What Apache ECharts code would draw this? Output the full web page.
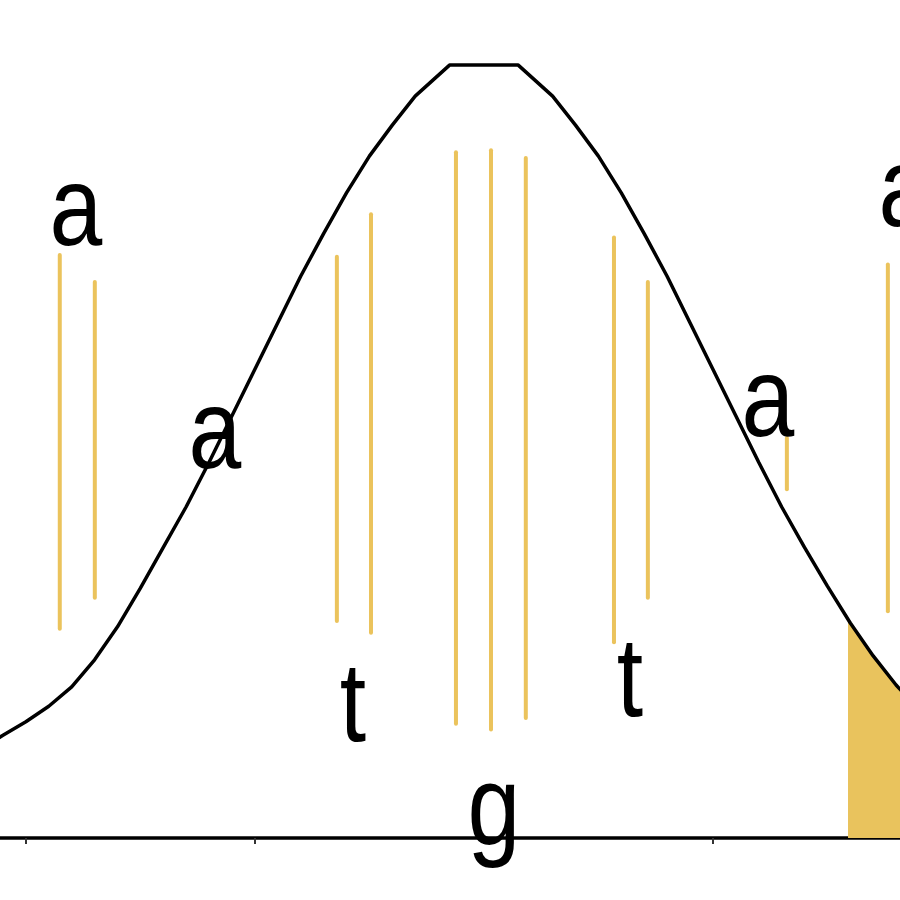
<!DOCTYPE html>
<html>
<head>
<meta charset="utf-8">
<script src="https://cdn.jsdelivr.net/npm/echarts@6/dist/echarts.min.js"></script>
<style>html,body{margin:0;padding:0;background:#fff}#c{width:900px;height:900px}</style>
</head>
<body>
<div id="c"></div>
<script>
// x in standard-deviation units, y as density
const xTicks = [-2, -1, 0, 1];
const curveX = [-2.2, -2.1, -2.0, -1.9, -1.8, -1.7, -1.6, -1.5, -1.4, -1.3, -1.2, -1.1, -1.0, -0.9, -0.8, -0.7, -0.6, -0.5, -0.4, -0.3, -0.15, 0.15, 0.3, 0.4, 0.5, 0.6, 0.7, 0.8, 0.9, 1.0, 1.1, 1.2, 1.3, 1.4, 1.5, 1.6, 1.7, 1.8, 1.9, 2.0];
const curveY = [0.046, 0.053, 0.060, 0.068, 0.078, 0.092, 0.109, 0.129, 0.150, 0.171, 0.194, 0.218, 0.242, 0.266, 0.290, 0.312, 0.333, 0.352, 0.368, 0.383, 0.399, 0.399, 0.383, 0.368, 0.352, 0.333, 0.312, 0.290, 0.266, 0.242, 0.218, 0.194, 0.171, 0.150, 0.130, 0.111, 0.094, 0.079, 0.066, 0.054];
const tailX = [1.59, 1.6, 1.7, 1.8, 1.9, 2.0];
const tailY = [0.113, 0.111, 0.094, 0.079, 0.066, 0.054];
const stripeX = [-1.852, -1.699, -0.642, -0.493, -0.122, 0.031, 0.183, 0.568, 0.716, 1.323, 1.764];
const stripeLow = [0.108, 0.124, 0.112, 0.106, 0.059, 0.056, 0.062, 0.101, 0.124, 0.180, 0.117];
const stripeHigh = [0.301, 0.287, 0.300, 0.322, 0.354, 0.355, 0.351, 0.310, 0.287, 0.2065, 0.296];
const letters = ['a', 'a', 't', 't', 'g', 'a', 'a'];
const letterX = [-1.782, -1.175, -0.572, 0.638, 0.044, 1.240, 1.838];
const letterY = [0.3222, 0.2070, 0.0661, 0.0790, 0.0130, 0.2235, 0.3320];

const chart = echarts.init(document.getElementById('c'), null, {renderer: 'canvas'});
const gold = '#EBC35C';
chart.setOption({
  animation: false,
  backgroundColor: '#ffffff',
  grid: {left: 0, right: 0, top: 0, bottom: 62},
  xAxis: {
    type: 'value', min: -2.113, max: 1.817,
    axisLine: {show: true, onZero: false, lineStyle: {color: '#000', width: 3.5}},
    axisTick: {show: true, length: 6, customValues: xTicks, lineStyle: {color: '#333', width: 2}},
    axisLabel: {show: false},
    splitLine: {show: false}
  },
  yAxis: {
    type: 'value', min: 0, max: 0.4326,
    show: false, splitLine: {show: false}
  },
  series: [
    {
      type: 'line', z: 1, symbol: 'none',
      data: tailX.map((x, i) => [x, tailY[i]]),
      lineStyle: {width: 0},
      areaStyle: {color: '#E9C35D', opacity: 1}
    },
    {
      type: 'custom', z: 2, clip: false,
      data: stripeX.map((x, i) => [x, stripeLow[i], stripeHigh[i]]),
      renderItem: function (params, api) {
        const p1 = api.coord([api.value(0), api.value(1)]);
        const p2 = api.coord([api.value(0), api.value(2)]);
        return {type: 'line', shape: {x1: p1[0], y1: p1[1], x2: p2[0], y2: p2[1]},
          style: {stroke: gold, lineWidth: 4, lineCap: 'round'}};
      }
    },
    {
      type: 'line', z: 3, symbol: 'none',
      data: curveX.map((x, i) => [x, curveY[i]]),
      lineStyle: {color: '#000', width: 3.5}
    },
    {
      type: 'custom', z: 4, clip: false,
      data: letterX.map((x, i) => [x, letterY[i], i]),
      renderItem: function (params, api) {
        const p = api.coord([api.value(0), api.value(1)]);
        return {type: 'text', x: p[0], y: p[1], scaleX: 0.84,
          style: {text: letters[api.value(2)], fontSize: 113, fontFamily: '"Liberation Sans", Arial, sans-serif',
            fill: '#000', align: 'center', verticalAlign: 'middle'}};
      }
    }
  ]
});
</script>
</body>
</html>
